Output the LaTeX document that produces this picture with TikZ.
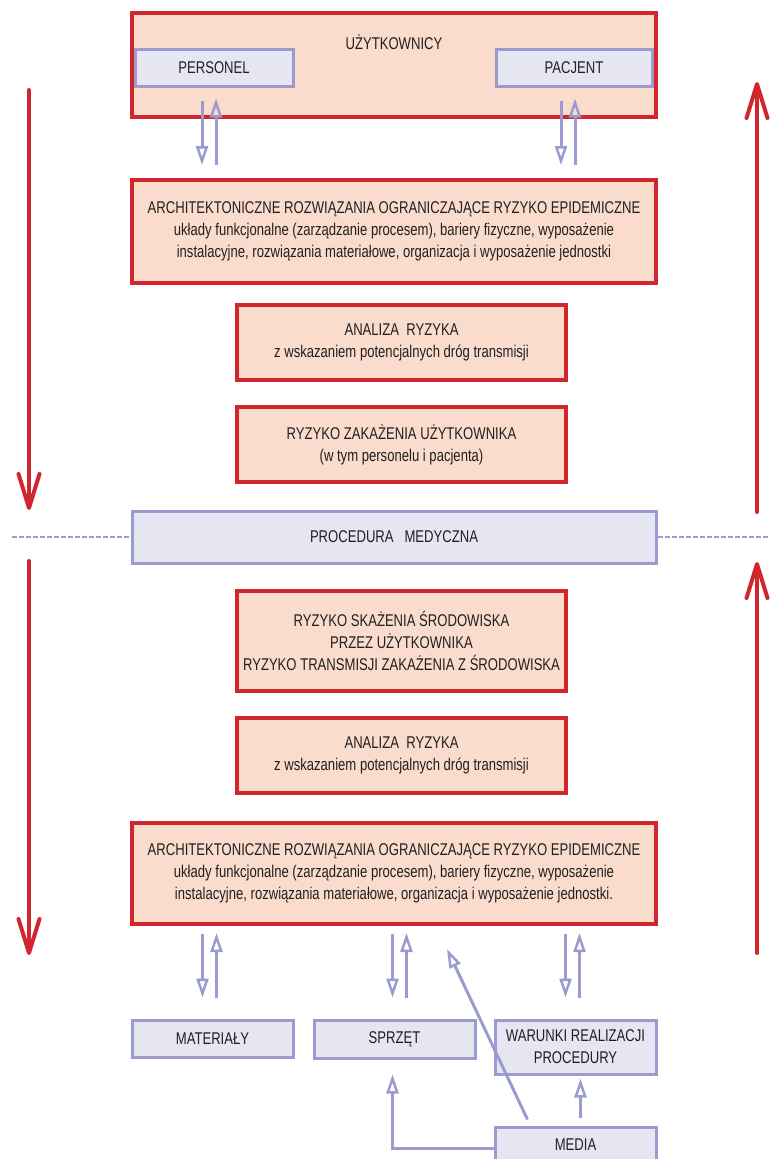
\documentclass[tikz,border=0pt]{standalone}
\usepackage{fontspec}
\setmainfont{Liberation Sans}[FakeStretch=0.77]
\usepackage{tikz}
\usepackage{xcolor}
\usetikzlibrary{arrows.meta, positioning, calc}
\definecolor{boxred}{HTML}{D1262D}
\definecolor{peach}{HTML}{F9DCCB}
\definecolor{lavline}{HTML}{9B9BD0}
\definecolor{lavfill}{HTML}{E6E6F2}
\definecolor{inkgray}{HTML}{231F20}

\begin{document}
\begin{tikzpicture}[x=1pt, y=-1pt,
    every node/.style={text=inkgray, font=\fontsize{17}{22}\selectfont, align=center},
    redbox/.style={rectangle, draw=boxred, fill=peach, line width=4pt, inner sep=0pt},
    lavbox/.style={rectangle, draw=lavline, fill=lavfill, line width=3pt, inner sep=0pt},
    redarr/.style={draw=boxred, line width=4pt, line cap=round, -{Straight Barb[length=34pt, width=21pt, line width=4pt, round]}},
    lavarr/.style={draw=lavline, line width=3pt, -{Triangle[open, length=19pt, width=12pt, line width=2.5pt]}}]
    \useasboundingbox (0,0) rectangle (770,1159);
    % upper half
    \node[redbox, minimum width=524pt, minimum height=104pt] (usr) at (394,65) {};
    \node (usrtitle) at (394,42) {UŻYTKOWNICY};
    \node[lavbox, minimum width=158pt, minimum height=37pt] (per) at (214,67.5) {PERSONEL};
    \node[lavbox, minimum width=156pt, minimum height=37pt] (pac) at (574,67.5) {PACJENT};
    \node[redbox, minimum width=524pt, minimum height=103pt] (arch1) at (394,231.5) {ARCHITEKTONICZNE ROZWIĄZANIA OGRANICZAJĄCE RYZYKO EPIDEMICZNE\\układy funkcjonalne (zarządzanie procesem), bariery fizyczne, wyposażenie\\instalacyjne, rozwiązania materiałowe, organizacja i wyposażenie jednostki};
    \node[redbox, minimum width=329pt, minimum height=75pt] (ana1) at (401.5,342.5) {ANALIZA\ \ RYZYKA\\z wskazaniem potencjalnych dróg transmisji};
    \node[redbox, minimum width=329pt, minimum height=75pt] (rz1) at (401.5,444.5) {RYZYKO ZAKAŻENIA UŻYTKOWNIKA\\(w tym personelu i pacjenta)};
    \node[lavbox, minimum width=524pt, minimum height=52pt] (proc) at (394,537) {PROCEDURA\ \ \ MEDYCZNA};
    % lower half
    \node[redbox, minimum width=329pt, minimum height=100pt] (rs) at (401.5,641) {RYZYKO SKAŻENIA ŚRODOWISKA\\PRZEZ UŻYTKOWNIKA\\RYZYKO TRANSMISJI ZAKAŻENIA Z ŚRODOWISKA};
    \node[redbox, minimum width=329pt, minimum height=75pt] (ana2) at (401.5,755.5) {ANALIZA\ \ RYZYKA\\z wskazaniem potencjalnych dróg transmisji};
    \node[redbox, minimum width=524pt, minimum height=101pt] (arch2) at (394,873.5) {ARCHITEKTONICZNE ROZWIĄZANIA OGRANICZAJĄCE RYZYKO EPIDEMICZNE\\układy funkcjonalne (zarządzanie procesem), bariery fizyczne, wyposażenie\\instalacyjne, rozwiązania materiałowe, organizacja i wyposażenie jednostki.};
    \node[lavbox, minimum width=161pt, minimum height=37pt] (mat) at (212.5,1038.5) {MATERIAŁY};
    \node[lavbox, minimum width=161pt, minimum height=38pt] (sprz) at (394.5,1039) {SPRZĘT};
    \node[lavbox, minimum width=161pt, minimum height=54pt] (war) at (575.5,1047) {WARUNKI REALIZACJI\\PROCEDURY};
    \node[lavbox, minimum width=161pt, minimum height=36pt] (med) at (575.5,1145) {MEDIA};
    % side arrows and dashed line
    \coordinate (la) at (29,90);  \coordinate (lb) at (29,510);
    \coordinate (lc) at (29,561); \coordinate (ld) at (29,955);
    \coordinate (ra) at (757,82); \coordinate (rb) at (757,512);
    \coordinate (rc) at (757,562); \coordinate (rd) at (757,953);
    \draw[redarr] (la) -- (lb);
    \draw[redarr] (lc) -- (ld);
    \draw[redarr] (rb) -- (ra);
    \draw[redarr] (rd) -- (rc);
    \coordinate (dl) at (12,537); \coordinate (dr) at (770,537);
    \draw[lavline, line width=2.5pt, dash pattern=on 5pt off 2pt] (dl) -- (proc.west);
    \draw[lavline, line width=2.5pt, dash pattern=on 5pt off 2pt] (proc.east) -- (dr);
    % users <-> architecture
    \draw[lavarr] ($(per.south)+(-12,13)$) -- ($(per.south|-arch1.north)+(-12,-13)$);
    \draw[lavarr] ($(per.south|-arch1.north)+(2,-13)$) -- ($(per.south)+(2,11)$);
    \draw[lavarr] ($(pac.south)+(-13,13)$) -- ($(pac.south|-arch1.north)+(-13,-13)$);
    \draw[lavarr] ($(pac.south|-arch1.north)+(1,-13)$) -- ($(pac.south)+(1,11)$);
    % architecture <-> resources
    \draw[lavarr] ($(mat.north|-arch2.south)+(-10,8)$) -- ($(mat.north)+(-10,-21)$);
    \draw[lavarr] ($(mat.north)+(4,-21)$) -- ($(mat.north|-arch2.south)+(4,7)$);
    \draw[lavarr] ($(sprz.north|-arch2.south)+(-2,8)$) -- ($(sprz.north)+(-2,-21)$);
    \draw[lavarr] ($(sprz.north)+(12,-21)$) -- ($(sprz.north|-arch2.south)+(12,7)$);
    \draw[lavarr] ($(war.north|-arch2.south)+(-10,8)$) -- ($(war.north)+(-10,-21)$);
    \draw[lavarr] ($(war.north)+(4,-21)$) -- ($(war.north|-arch2.south)+(4,7)$);
    % media
    \draw[lavarr] ($(med.north)+(5,-8)$) -- ($(war.south)+(5,3)$);
    \draw[lavarr] ($(med.west)+(0,3)$) -| ($(sprz.south)+(-2,15)$);
    \draw[lavarr] ($(med.north)+(-48,-6)$) -- ($(arch2.south)+(53,23)$);
\end{tikzpicture}
\end{document}
